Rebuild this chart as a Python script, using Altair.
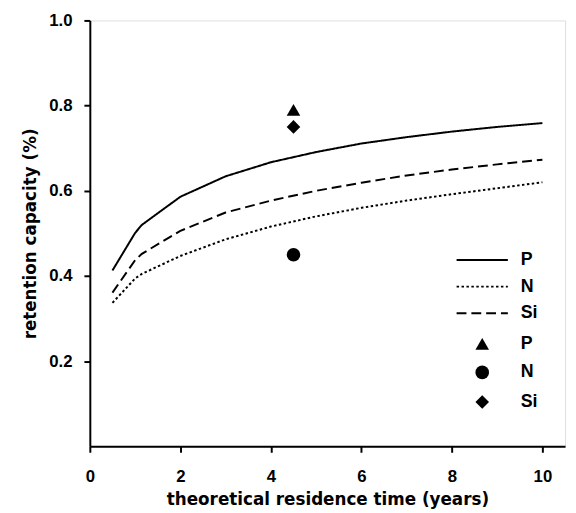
import altair as alt
import pandas as pd

# Model curves (theoretical residence time in years)
years = [0.5, 1, 1.15, 2, 3, 4, 5, 6, 7, 8, 9, 10]
p_curve = [0.413, 0.501, 0.520, 0.586, 0.634, 0.667, 0.691, 0.711, 0.726, 0.739, 0.750, 0.759]
n_curve = [0.337, 0.394, 0.405, 0.447, 0.486, 0.516, 0.540, 0.560, 0.577, 0.592, 0.606, 0.620]
si_curve = [0.361, 0.437, 0.452, 0.506, 0.549, 0.577, 0.600, 0.619, 0.636, 0.650, 0.662, 0.673]

# Observed points
obs_names = ["P", "N", "Si"]
obs_x = [4.5, 4.5, 4.5]
obs_y = [0.79, 0.45, 0.75]

names = ["P", "N", "Si"]

rows = []
for nm, vals in zip(names, [p_curve, n_curve, si_curve]):
    for x, y in zip(years, vals):
        rows.append({"t": x, "r": y, "curve": nm})
lines_df = pd.DataFrame(rows)
pts_df = pd.DataFrame({"t": obs_x, "r": obs_y, "obs": obs_names})

FONT = "Liberation Sans"
TFONT = "DejaVu Sans"

xscale = alt.Scale(domain=[0, 10.5], nice=False)
yscale = alt.Scale(domain=[0, 1.0], nice=False)

xaxis = alt.Axis(values=[0, 2, 4, 6, 8, 10], title="theoretical residence time (years)",
                 grid=False, domain=True, domainColor="black", domainWidth=2,
                 tickColor="black", tickWidth=2, tickSize=6, labelPadding=17,
                 labelFont=FONT, labelFontSize=17, labelFontWeight="bold", labelColor="black",
                 titleFont=TFONT, titleFontSize=17, titleFontWeight="bold", titleColor="black",
                 titlePadding=7, labelFlush=False)
yaxis = alt.Axis(values=[0.2, 0.4, 0.6, 0.8, 1.0], format=".1f", title="retention capacity (%)",
                 grid=False, domain=True, domainColor="black", domainWidth=2,
                 tickColor="black", tickWidth=2, tickSize=6, labelPadding=12,
                 labelFont=FONT, labelFontSize=17, labelFontWeight="bold", labelColor="black",
                 titleFont=TFONT, titleFontSize=17, titleFontWeight="bold", titleColor="black",
                 titlePadding=9, labelFlush=False)

lines = alt.Chart(lines_df).mark_line(color="black", strokeWidth=2).encode(
    x=alt.X("t:Q", scale=xscale, axis=xaxis),
    y=alt.Y("r:Q", scale=yscale, axis=yaxis),
    strokeDash=alt.StrokeDash(
        "curve:N",
        scale=alt.Scale(domain=names, range=[[1, 0], [2.5, 2.5], [10, 5]]),
        legend=alt.Legend(title=None, orient="none", legendX=387, legendY=232,
                          symbolType="M-2.6,0H2.6", symbolSize=400,
                          symbolStrokeWidth=2, symbolStrokeColor="black",
                          labelFont=FONT, labelFontSize=18, labelFontWeight="bold",
                          labelColor="black", labelOffset=28, rowPadding=7),
        sort=names,
    ),
    detail="curve:N",
)

points = alt.Chart(pts_df).mark_point(filled=True, color="black", size=190, opacity=1).encode(
    x=alt.X("t:Q", scale=xscale),
    y=alt.Y("r:Q", scale=yscale),
    shape=alt.Shape(
        "obs:N",
        scale=alt.Scale(domain=obs_names, range=["triangle-up", "circle", "diamond"]),
        legend=alt.Legend(title=None, orient="none", legendX=389, legendY=319,
                          symbolSize=190, symbolFillColor="black", symbolStrokeColor="black",
                          symbolOpacity=1,
                          labelFont=FONT, labelFontSize=18, labelFontWeight="bold",
                          labelColor="black", labelOffset=30, rowPadding=10),
        sort=obs_names,
    ),
)

chart = alt.layer(lines, points).resolve_legend(shape="independent", strokeDash="independent").properties(
    width=482, height=432,
    autosize=alt.AutoSizeParams(type="none"),
    padding={"left": 83, "top": 9, "right": 3, "bottom": 64},
).configure_view(stroke="black", strokeWidth=2).configure(background="white")

chart.save("out.html", embed_options={"renderer": "svg", "actions": False})
